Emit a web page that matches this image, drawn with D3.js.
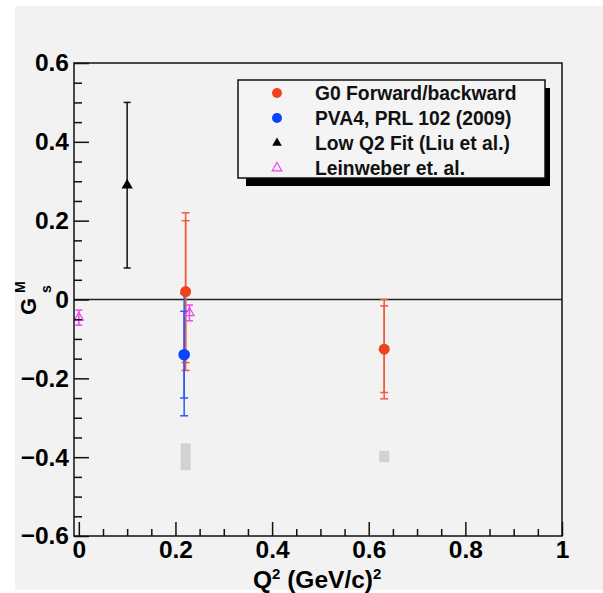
<!DOCTYPE html>
<html>
<head>
<meta charset="utf-8">
<script src="https://cdn.jsdelivr.net/npm/d3@7"></script>
<style>
  body { margin: 0; background: #fff; }
  svg { display: block; font-family: "Liberation Sans", Arial, sans-serif; font-weight: bold; }
</style>
</head>
<body>
<svg></svg>
<script>
// G0 forward/backward (stat = inner bar, total = outer bar)
let g0Q2 = [0.221, 0.632]
let g0Gs = [0.02, -0.126]
let g0Stat = [0.18, 0.11]
let g0Tot = [0.20, 0.126]

// PVA4
let pvaQ2 = [0.218]
let pvaGs = [-0.14]
let pvaStat = [0.11]
let pvaTot = [0.155]

// Low Q2 fit (Liu et al.)
let liuQ2 = [0.1]
let liuGs = [0.29]
let liuErr = [0.21]

// Leinweber et al.
let leinQ2 = [0.0, 0.229]
let leinGs = [-0.046, -0.034]
let leinErr = [0.019, 0.02]

// grey systematic boxes
let sysQ2 = [0.221, 0.632]
let sysLo = [-0.433, -0.413]
let sysHi = [-0.365, -0.384]

let xTicks = [0, 0.2, 0.4, 0.6, 0.8, 1]
let yTicks = [-0.6, -0.4, -0.2, 0, 0.2, 0.4, 0.6]
let legendLabels = ['G0 Forward/backward', 'PVA4, PRL 102 (2009)', 'Low Q2 Fit (Liu et al.)', 'Leinweber et. al.']

let width = 603
let height = 593
let padL = 74, padR = 562, padT = 63, padB = 536

let red = '#ef4220'
let redBar = '#f25a3c'
let blue = '#0a44ff'
let blueBar = '#2a5cf0'
let pink = '#ee44ee'

let svg = d3.select('svg').attr('width', width).attr('height', height)

// canvas background
svg.append('rect').attr('x', 15).attr('y', 6).attr('width', width - 15).attr('height', 584).attr('fill', '#f2f2f2')

let xScale = d3.scaleLinear().domain([-0.01, 1]).range([padL, padR])
let yScale = d3.scaleLinear().domain([-0.6, 0.6]).range([padB, padT])

// grey boxes
sysQ2.forEach((q, i) => {
    svg.append('rect')
        .attr('x', xScale(q) - 5)
        .attr('y', yScale(sysHi[i]))
        .attr('width', 10)
        .attr('height', yScale(sysLo[i]) - yScale(sysHi[i]))
        .attr('fill', '#d2d2d2')
})

// zero line
svg.append('line')
    .attr('x1', padL).attr('x2', padR)
    .attr('y1', yScale(0)).attr('y2', yScale(0))
    .attr('stroke', '#222').attr('stroke-width', 1.5)

let errorBar = (q, v, e, color, cap) => {
    let g = svg.append('g').attr('stroke', color).attr('stroke-width', 1.5)
    let x = xScale(q)
    g.append('line').attr('x1', x).attr('x2', x).attr('y1', yScale(v + e)).attr('y2', yScale(v - e))
    g.append('line').attr('x1', x - cap).attr('x2', x + cap).attr('y1', yScale(v + e)).attr('y2', yScale(v + e))
    g.append('line').attr('x1', x - cap).attr('x2', x + cap).attr('y1', yScale(v - e)).attr('y2', yScale(v - e))
}

let triangle = d3.symbol().type(d3.symbolTriangle).size(55)

// Liu fit
liuQ2.forEach((q, i) => errorBar(q, liuGs[i], liuErr[i], '#111', 3.5))
// G0
g0Q2.forEach((q, i) => {
    errorBar(q, g0Gs[i], g0Tot[i], redBar, 4)
    errorBar(q, g0Gs[i], g0Stat[i], redBar, 4)
})
// PVA4
pvaQ2.forEach((q, i) => {
    errorBar(q, pvaGs[i], pvaTot[i], blueBar, 4)
    errorBar(q, pvaGs[i], pvaStat[i], blueBar, 4)
})
// Leinweber
leinQ2.forEach((q, i) => errorBar(q, leinGs[i], leinErr[i], pink, 3.5))

svg.selectAll('.liu').data(liuQ2).enter().append('path')
    .attr('d', triangle)
    .attr('transform', (d, i) => 'translate(' + xScale(d) + ',' + yScale(liuGs[i]) + ')')
    .attr('fill', '#000')

svg.selectAll('.g0').data(g0Q2).enter().append('circle')
    .attr('cx', d => xScale(d))
    .attr('cy', (d, i) => yScale(g0Gs[i]))
    .attr('r', 5.5)
    .attr('fill', red)

svg.selectAll('.pva').data(pvaQ2).enter().append('circle')
    .attr('cx', d => xScale(d))
    .attr('cy', (d, i) => yScale(pvaGs[i]))
    .attr('r', 5.8)
    .attr('fill', blue)

svg.selectAll('.lein').data(leinQ2).enter().append('path')
    .attr('d', d3.symbol().type(d3.symbolTriangle).size(36))
    .attr('transform', (d, i) => 'translate(' + xScale(d) + ',' + yScale(leinGs[i]) + ')')
    .attr('fill', 'none')
    .attr('stroke', pink)
    .attr('stroke-width', 1.2)

// frame
svg.append('rect')
    .attr('x', padL).attr('y', padT)
    .attr('width', padR - padL).attr('height', padB - padT)
    .attr('fill', 'none').attr('stroke', '#111').attr('stroke-width', 1.5)

// axes
let minorX = d3.range(0.05, 1, 0.05).filter(v => Math.abs(v * 5 - Math.round(v * 5)) > 1e-6)
let minorY = d3.range(-0.55, 0.6, 0.05).filter(v => Math.abs(v * 5 - Math.round(v * 5)) > 1e-6)

svg.append('g')
    .attr('transform', 'translate(0,' + padB + ')')
    .call(d3.axisBottom(xScale).tickValues(xTicks).tickSizeInner(-14).tickSizeOuter(0).tickPadding(5)
        .tickFormat(d => d3.format('')(+d.toFixed(1))))
svg.append('g')
    .attr('transform', 'translate(0,' + padB + ')')
    .call(d3.axisBottom(xScale).tickValues(minorX).tickSizeInner(-7).tickSizeOuter(0).tickFormat(''))

svg.append('g')
    .attr('transform', 'translate(' + padL + ',0)')
    .call(d3.axisLeft(yScale).tickValues(yTicks).tickSizeInner(-15).tickSizeOuter(0).tickPadding(5)
        .tickFormat(d => d3.format('')(+d.toFixed(1))))
svg.append('g')
    .attr('transform', 'translate(' + padL + ',0)')
    .call(d3.axisLeft(yScale).tickValues(minorY).tickSizeInner(-8).tickSizeOuter(0).tickFormat(''))

svg.selectAll('.domain').remove()
svg.selectAll('.tick line').attr('stroke', '#111').attr('stroke-width', 1.5)
svg.selectAll('.tick text')
    .attr('fill', '#000')
    .style('font-size', '24.5px')
    .style('font-family', '"Liberation Sans", Arial, sans-serif')
    .style('font-weight', 'bold')

// axis titles
let xt = svg.append('text').attr('x', 253).attr('y', 588).style('font-size', '24.5px')
xt.append('tspan').text('Q')
xt.append('tspan').text('2').attr('dy', -9).style('font-size', '15px')
xt.append('tspan').text(' (GeV/c)').attr('dy', 9)
xt.append('tspan').text('2').attr('dy', -9).style('font-size', '15px')

let yt = svg.append('g').attr('transform', 'translate(36,298) rotate(-90)')
yt.append('text').attr('x', -17).attr('y', 0).style('font-size', '22px').text('G')
yt.append('text').attr('x', 5).attr('y', 15).style('font-size', '14px').text('s')
yt.append('text').attr('x', 5).attr('y', -11).style('font-size', '14px').text('M')

// legend
let lx = 238, ly = 80, lw = 307, lh = 98
svg.append('rect').attr('x', lx + 8).attr('y', ly + 8).attr('width', lw - 3).attr('height', lh).attr('fill', '#000')
svg.append('rect').attr('x', lx).attr('y', ly).attr('width', lw).attr('height', lh)
    .attr('fill', '#f4f4f4').attr('stroke', '#111').attr('stroke-width', 1.5)

let rowY = d3.scalePoint().domain(legendLabels).range([ly + 13, ly + 88])
let mx = lx + 39

legendLabels.forEach((label, i) => {
    let yy = rowY(label)
    svg.append('text').attr('x', lx + 77).attr('y', yy).attr('dy', '0.36em')
        .style('font-size', '19.3px').attr('fill', '#111').text(label)
})
svg.append('circle').attr('cx', mx).attr('cy', rowY(legendLabels[0])).attr('r', 5).attr('fill', red)
svg.append('circle').attr('cx', mx).attr('cy', rowY(legendLabels[1])).attr('r', 5).attr('fill', blue)
svg.append('path').attr('d', d3.symbol().type(d3.symbolTriangle).size(40))
    .attr('transform', 'translate(' + mx + ',' + rowY(legendLabels[2]) + ')').attr('fill', '#000')
svg.append('path').attr('d', d3.symbol().type(d3.symbolTriangle).size(40))
    .attr('transform', 'translate(' + mx + ',' + rowY(legendLabels[3]) + ')')
    .attr('fill', 'none').attr('stroke', pink).attr('stroke-width', 1.2)
</script>
</body>
</html>
